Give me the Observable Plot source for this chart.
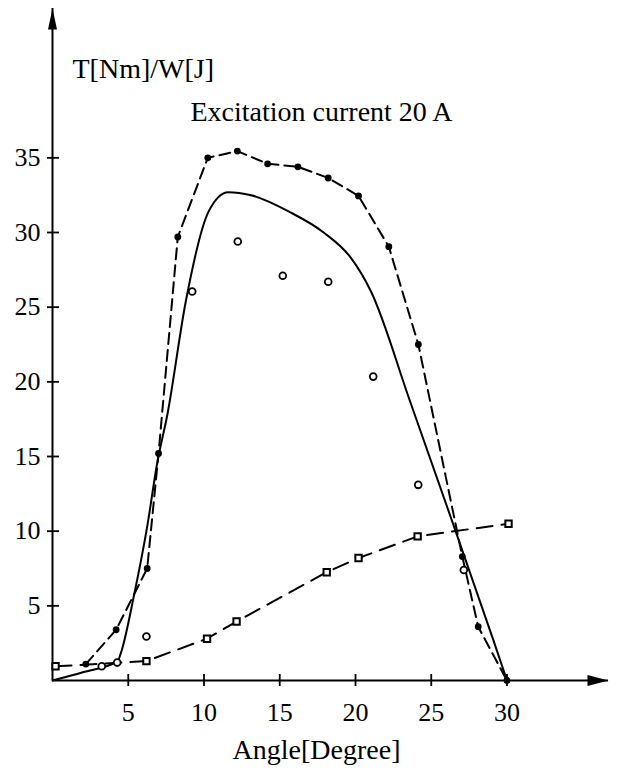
<!DOCTYPE html>
<html>
<head>
<meta charset="utf-8">
<script src="https://cdn.jsdelivr.net/npm/d3@7"></script>
<script src="https://cdn.jsdelivr.net/npm/@observablehq/plot@0.6"></script>
<style>
  html, body { margin: 0; padding: 0; background: #fff; }
</style>
</head>
<body>
<div id="chart"></div>
<script>
// ---- Texts ----
const yTitle = "T[Nm]/W[J]";
const subTitle = "Excitation current 20 A";
const xTitle = "Angle[Degree]";

// ---- Tick labels ----
const xTicks = [5, 10, 15, 20, 25, 30];
const yTicks = [5, 10, 15, 20, 25, 30, 35];

// ---- Series: filled dots, long-dashed line ----
const dotAngle = [2.2, 4.2, 6.25, 7.0, 8.27, 10.25, 12.2, 14.2, 16.2, 18.2, 20.2, 22.2, 24.15, 27.05, 28.1, 30.0];
const dotValue = [1.1, 3.4, 7.5, 15.2, 29.7, 35.0, 35.45, 34.6, 34.4, 33.65, 32.45, 29.05, 22.5, 8.3, 3.6, 0.0];

// ---- Series: solid smooth curve ----
const curveAngle = [0, 2.0, 4.3, 4.5, 5.4, 6.25, 6.9, 7.6, 8.8, 10.3, 11.6, 13.1, 15.7, 17.9, 19.7, 21.0, 23.6, 26.3, 29.1, 30.0];
const curveValue = [0, 0.55, 1.3, 1.8, 5.8, 10.3, 14.5, 17.9, 25.4, 31.4, 32.7, 32.5, 31.35, 30.0, 28.3, 26.1, 18.7, 10.9, 2.7, 0.0];

// ---- Series: open circles (no line) ----
const circleAngle = [3.25, 4.27, 6.2, 9.22, 12.23, 15.2, 18.2, 21.17, 24.14, 27.15];
const circleValue = [0.95, 1.2, 2.95, 26.05, 29.4, 27.1, 26.7, 20.35, 13.1, 7.4];

// ---- Series: squares, dashed line ----
const squareAngle = [0.2, 6.2, 10.2, 12.15, 18.1, 20.2, 24.1, 30.1];
const squareValue = [0.95, 1.3, 2.8, 3.95, 7.25, 8.2, 9.65, 10.5];

const xMax = 36.7, yMax = 45;

const zipTable = (xs, ys) => xs.map((x, i) => ({x, y: ys[i]}));
const dotData = zipTable(dotAngle, dotValue);
const curveData = zipTable(curveAngle, curveValue);
const circleData = zipTable(circleAngle, circleValue);
const squareData = zipTable(squareAngle, squareValue);

const arrowUp = {draw(ctx) { ctx.moveTo(0, 0); ctx.lineTo(-4.5, 21); ctx.lineTo(4.5, 21); ctx.closePath(); }};
const arrowRight = {draw(ctx) { ctx.moveTo(0, 0); ctx.lineTo(-21, -5.5); ctx.lineTo(-21, 5.5); ctx.closePath(); }};

const font = "'Liberation Serif', 'Times New Roman', serif";

const chart = Plot.plot({
  width: 618,
  height: 772,
  marginLeft: 52,
  marginRight: 10,
  marginTop: 8,
  marginBottom: 92,
  style: {fontFamily: font, fontSize: "26px", color: "#000", background: "#fff"},
  x: {domain: [0, xMax]},
  y: {domain: [0, yMax]},
  marks: [
    // axis lines
    Plot.ruleY([0], {stroke: "#000", strokeWidth: 2}),
    Plot.ruleX([0], {stroke: "#000", strokeWidth: 2}),
    // arrow heads
    Plot.dot([{x: 0, y: yMax}], {x: "x", y: "y", symbol: arrowUp, fill: "#000"}),
    Plot.dot([{x: xMax, y: 0}], {x: "x", y: "y", symbol: arrowRight, fill: "#000"}),
    // tick marks crossing the axes
    Plot.ruleX(xTicks, {x: d => d, y1: 0, y2: 0, insetTop: 6, insetBottom: 6, stroke: "#000", strokeWidth: 1.8}),
    Plot.ruleY(yTicks, {y: d => d, x1: 0, x2: 0, insetLeft: -5, insetRight: -7, stroke: "#000", strokeWidth: 1.8}),
    // tick labels
    Plot.axisX(xTicks, {tickSize: 0, tickPadding: 22.5, fontSize: 26, label: null}),
    Plot.axisY(yTicks, {tickSize: 0, tickPadding: 12, fontSize: 26, label: null}),
    // titles
    Plot.text([yTitle], {text: d => d, frameAnchor: "top-left", textAnchor: "start", dx: 20, dy: 50, fontSize: 28}),
    Plot.text([subTitle], {text: d => d, frameAnchor: "top-left", textAnchor: "start", dx: 138, dy: 93, fontSize: 28}),
    Plot.text([xTitle], {text: d => d, frameAnchor: "bottom", textAnchor: "middle", dx: -14, dy: 78, fontSize: 28}),
    // series
    Plot.line(squareData, {x: "x", y: "y", stroke: "#000", strokeWidth: 2, strokeDasharray: "16,9"}),
    Plot.line(curveData, {x: "x", y: "y", curve: "monotone-x", stroke: "#000", strokeWidth: 2}),
    Plot.line(dotData, {x: "x", y: "y", stroke: "#000", strokeWidth: 2, strokeDasharray: "11,6"}),
    Plot.dot(squareData, {x: "x", y: "y", symbol: "square", r: 3.6, fill: "#fff", stroke: "#000", strokeWidth: 2}),
    Plot.dot(circleData, {x: "x", y: "y", r: 3.4, fill: "#fff", stroke: "#000", strokeWidth: 1.8}),
    Plot.dot(dotData, {x: "x", y: "y", r: 3.4, fill: "#000"})
  ]
});

document.getElementById("chart").appendChild(chart);
</script>
</body>
</html>
